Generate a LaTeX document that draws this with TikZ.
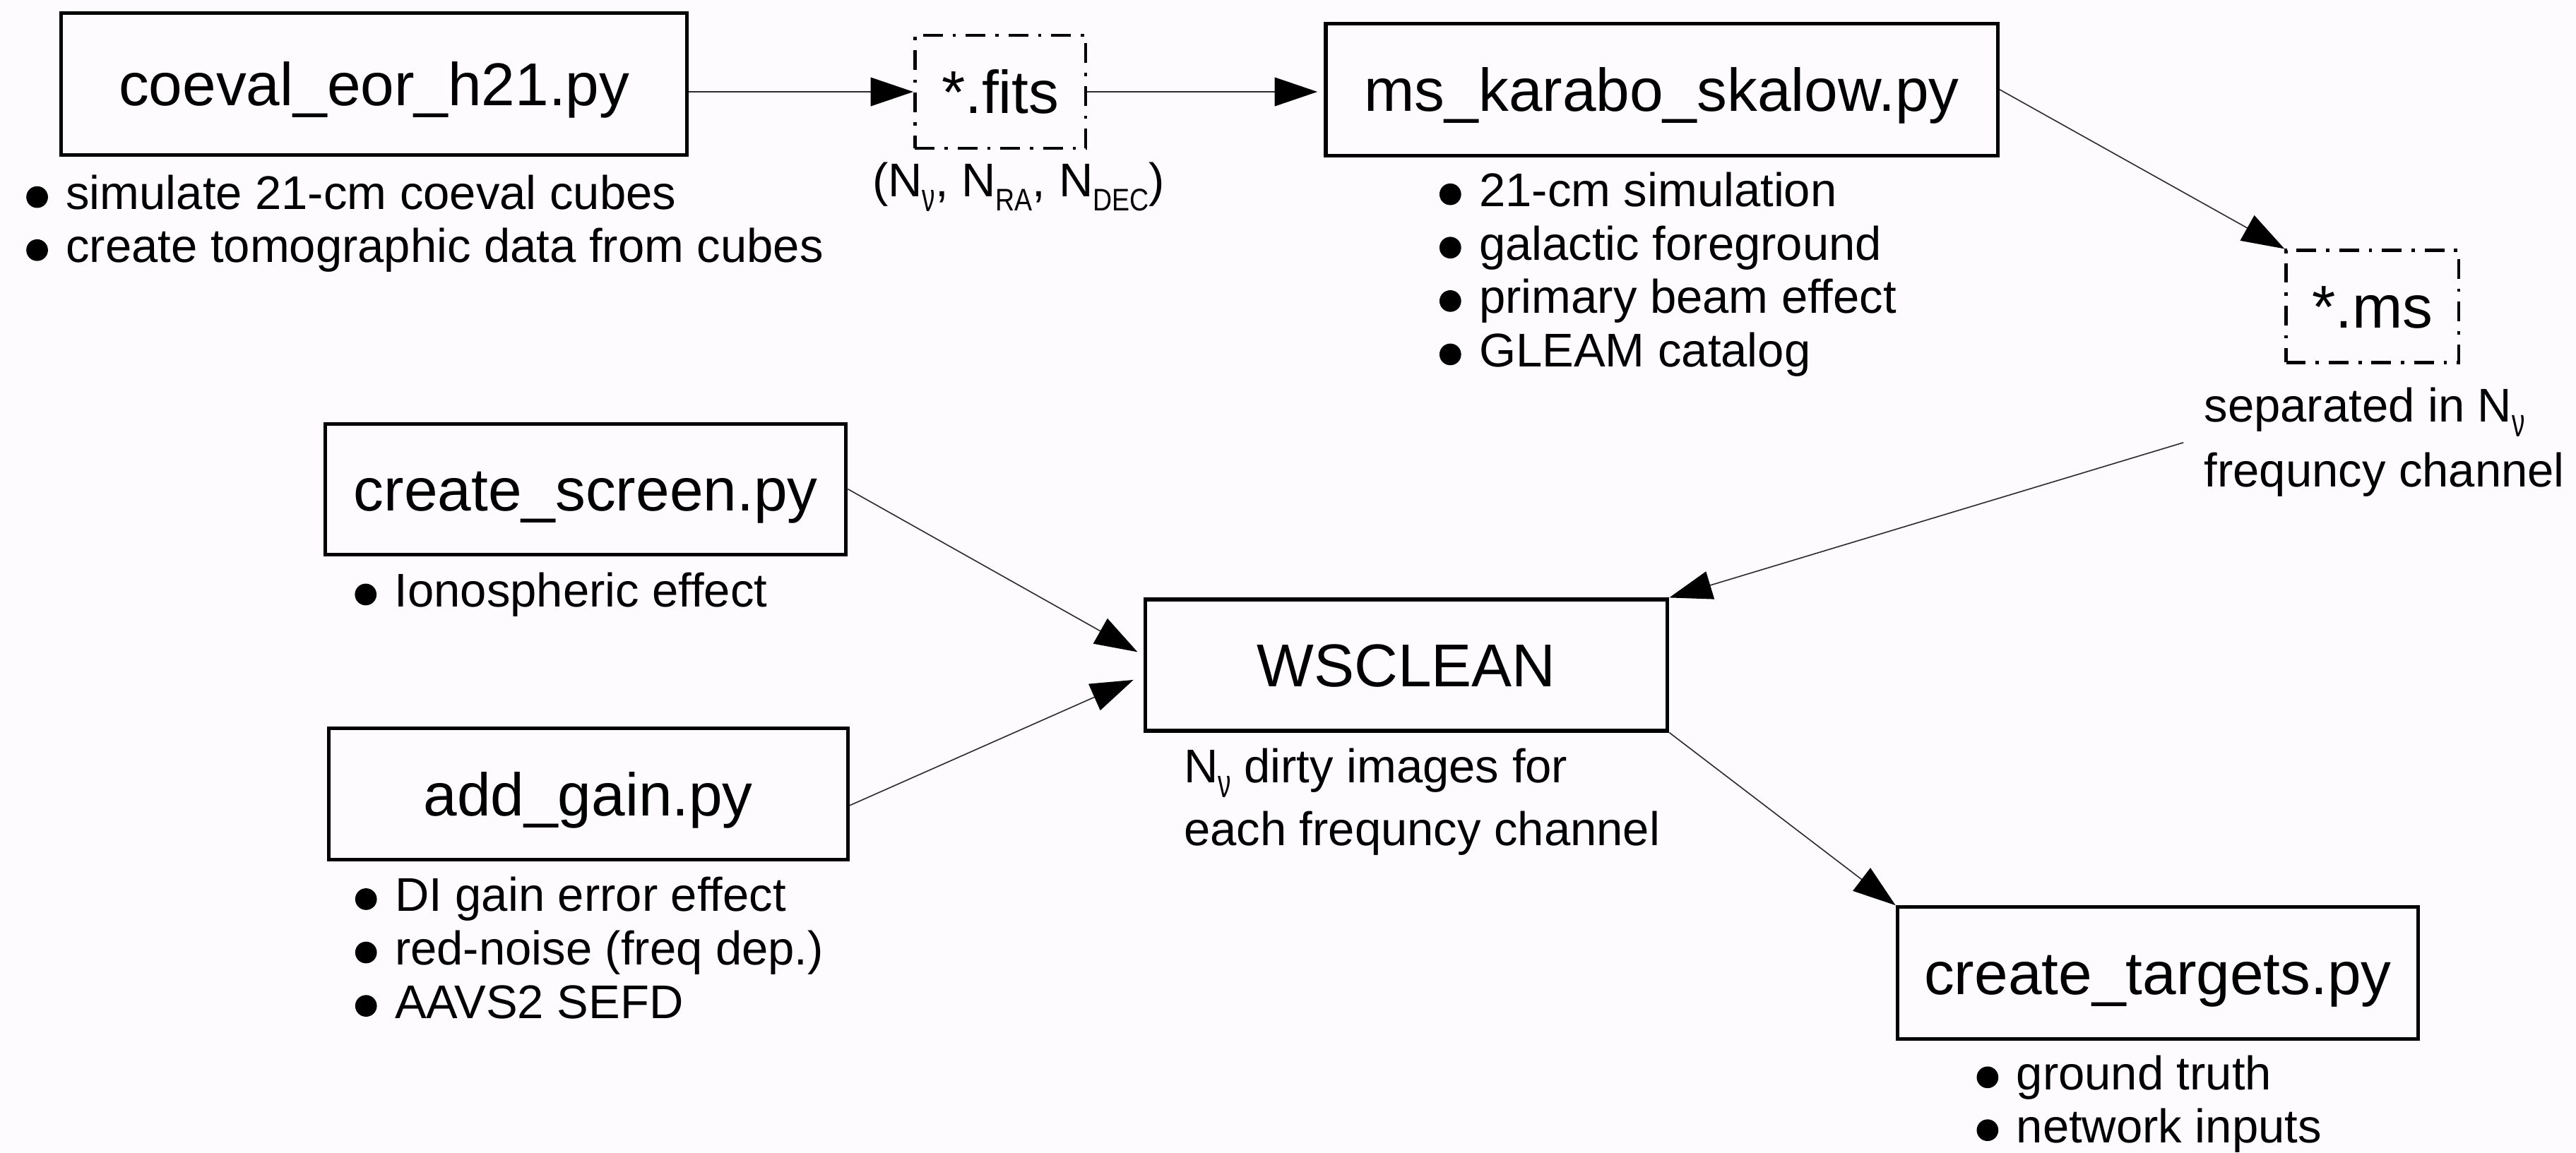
\documentclass[tikz,border=0pt]{standalone}
\usepackage{fontspec}
\setmainfont{Liberation Sans}
\usetikzlibrary{arrows.meta,calc}

\definecolor{pagebg}{RGB}{253,251,254}
\definecolor{wire}{RGB}{45,45,45}

\newcommand\titlefont{\fontsize{36.8}{44}\selectfont}
\newcommand\notefont{\fontsize{28.8}{33}\selectfont}
% filled round bullet followed by a gap
\newcommand\bul{\tikz[baseline=-7.5pt]\fill (0,0) circle (6.6pt);\hspace{11pt}}
% lowered, condensed subscripts
\newcommand\nusub{\raisebox{-9pt}{\scalebox{0.55}[0.85]{ν}}}
\newcommand\capsub[1]{\raisebox{-8.6pt}{\scalebox{0.56}[0.66]{#1}}}

\tikzset{
  box/.style={draw, line width=2.2pt, inner sep=0pt, font=\titlefont,
    text height=26.4pt, text depth=0pt},
  filebox/.style={box, line width=1.9pt,
    dash pattern=on 12pt off 6pt on 2pt off 6pt},
  note/.style={anchor=base west, inner sep=0pt, font=\notefont},
  link/.style={draw=wire, line width=0.7pt,
    -{Triangle[length=26pt,width=17.5pt,color=black]}}
}

\begin{document}
\begin{tikzpicture}[x=1pt,y=-1pt]
\fill[pagebg] (0,0) rectangle (1568,701.7);
\useasboundingbox (0,0) rectangle (1568,701.7);

% processing steps and data products
\node[box, minimum width=381pt, minimum height=86.7pt] (coeval) at (227.8,51.2) {coeval\_eor\_h21.py};
\node[filebox, minimum width=104pt, minimum height=69pt] (fits) at (608.9,55.9) {*.fits};
\node[box, minimum width=409pt, minimum height=80.3pt] (karabo) at (1011.5,54.5) {ms\_karabo\_skalow.py};
\node[filebox, minimum width=105pt, minimum height=68.3pt] (ms) at (1444,186.6) {*.ms};
\node[box, minimum width=317pt, minimum height=79.5pt] (screen) at (356.5,297.8) {create\_screen.py};
\node[box, minimum width=316pt, minimum height=80pt] (gain) at (358,483.5) {add\_gain.py};
\node[box, minimum width=318pt, minimum height=80pt] (wsclean) at (856,405) {WSCLEAN};
\node[box, minimum width=317pt, minimum height=80.3pt] (targets) at (1313.4,592.5) {create\_targets.py};

% descriptions
\node[note] (cev1) at (15.8,127.5) {\bul simulate 21-cm coeval cubes};
\node[note] (cev2) at (15.8,159.8) {\bul create tomographic data from cubes};

\node[note, anchor=base] (fitsdim) at (620,119.7) {(N\nusub, N\capsub{RA}, N\capsub{DEC})};

\node[note] (kar1) at (876,125.8) {\bul 21-cm simulation};
\node[note] (kar2) at (876,158.3) {\bul galactic foreground};
\node[note] (kar3) at (876,190.8) {\bul primary beam effect};
\node[note] (kar4) at (876,223.3) {\bul GLEAM catalog};

\node[note] (sep1) at (1341.5,257) {separated in N\nusub};
\node[note] (sep2) at (1341.5,296.5) {frequncy channel};

\node[note] (scr1) at (215.8,369.5) {\bul Ionospheric effect};

\node[note] (gan1) at (216,555) {\bul DI gain error effect};
\node[note] (gan2) at (216,587.5) {\bul red-noise (freq dep.)};
\node[note] (gan3) at (216,620) {\bul AAVS2 SEFD};

\node[note] (wsc1) at (720.4,476.5) {N\nusub{} dirty images for};
\node[note] (wsc2) at (720.4,515) {each frequncy channel};

\node[note] (tgt1) at (1203,663.5) {\bul ground truth};
\node[note] (tgt2) at (1203,695.7) {\bul network inputs};

% connectors
\coordinate (seppt) at ($(sep1.base west)+(-12.5,12.5)$);
\draw[link] (coeval.east |- fits.west) -- (fits.west);
\draw[link, shorten >=4pt] (fits.east) -- (fits.east -| karabo.west);
\draw[link] (karabo.east) -- (ms.north west);
\draw[link] (seppt) -- (wsclean.north east);
\draw[link] (screen.east) -- ($(wsclean.west)+(-3.5,-8)$);
\draw[link] ($(gain.east)+(0,7)$) -- ($(wsclean.west)+(-6,9)$);
\draw[link] (wsclean.south east) -- (targets.north west);
\end{tikzpicture}
\end{document}
